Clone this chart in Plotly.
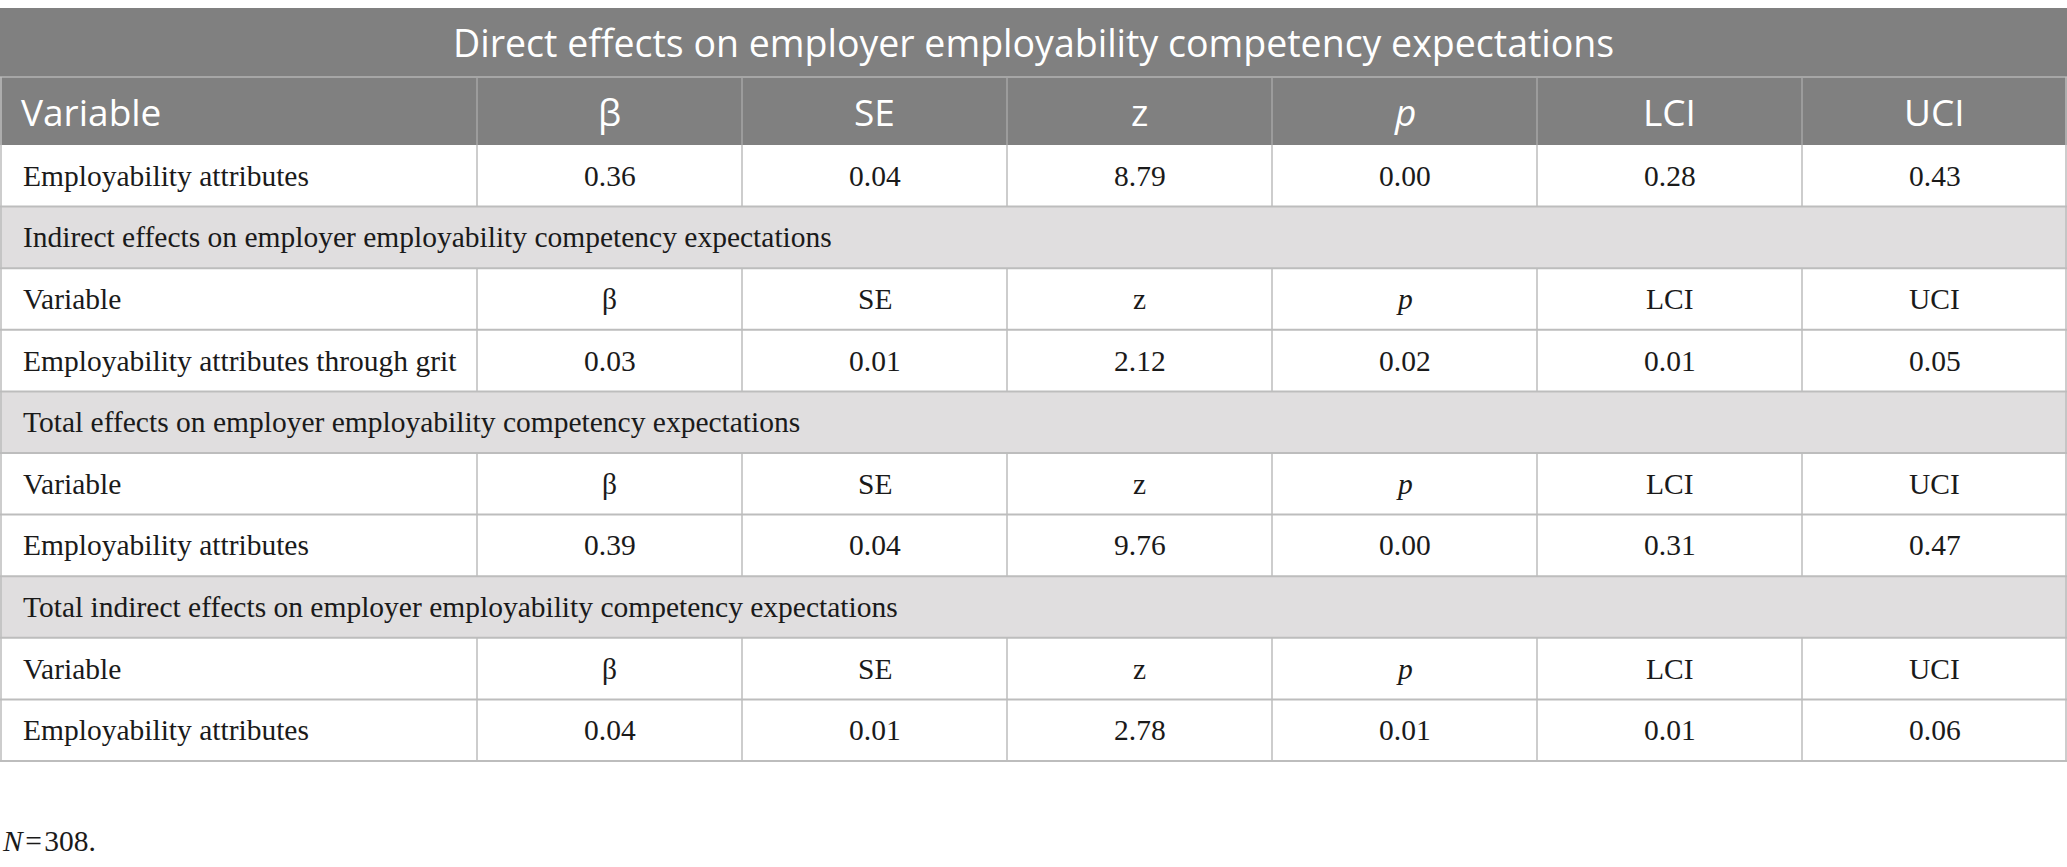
import plotly.graph_objects as go

# ---------------- data ----------------
title = "Direct effects on employer employability competency expectations"
columns = ["Variable", "β", "SE", "z", "<i>p</i>", "LCI", "UCI"]
section_titles = [
    "Indirect effects on employer employability competency expectations",
    "Total effects on employer employability competency expectations",
    "Total indirect effects on employer employability competency expectations",
]
variables = [
    "Employability attributes",
    "Employability attributes through grit",
    "Employability attributes",
    "Employability attributes",
]
beta = ["0.36", "0.03", "0.39", "0.04"]
se = ["0.04", "0.01", "0.04", "0.01"]
zval = ["8.79", "2.12", "9.76", "2.78"]
pval = ["0.00", "0.02", "0.00", "0.01"]
lci = ["0.28", "0.01", "0.31", "0.01"]
uci = ["0.43", "0.05", "0.47", "0.06"]
footnote = "<i>N</i>\u200a=\u200a308."

# ---------------- layout constants ----------------
W, H = 2067, 867
TOP = 8
TITLE_H = 69
HEAD_H = 68
ROW_H = 61.6
COL_W = [477] + [265] * 6
PAD = 21

HEAD_BG = "#808080"
SECT_BG = "#e0dedf"
LINE = "#bdbdbd"
HEAD_LINE = "#a6a6a6"
TXT = "#1a1a1a"
SANS = "Open Sans"
SERIF = "Liberation Serif"
TITLE_SIZE = 37.5
HEAD_SIZE = 37
SERIF_SIZE = 29.5

col_x = [0]
for w in COL_W:
    col_x.append(col_x[-1] + w)
col_c = [(col_x[i] + col_x[i + 1]) / 2 for i in range(len(COL_W))]

shapes = []
annotations = []


def rect(x0, y0, x1, y1, fill):
    shapes.append(dict(type="rect", xref="x", yref="y", x0=x0, x1=x1, y0=y0, y1=y1,
                       fillcolor=fill, line=dict(width=0), layer="below"))


def hline(y, color=LINE, w=2):
    shapes.append(dict(type="line", xref="x", yref="y", x0=0, x1=W, y0=y, y1=y,
                       line=dict(color=color, width=w)))


def vline(x, y0, y1, color=LINE, w=1.5):
    shapes.append(dict(type="line", xref="x", yref="y", x0=x, x1=x, y0=y0, y1=y1,
                       line=dict(color=color, width=w)))


def text(x, y, s, anchor, font, size, color):
    annotations.append(dict(x=x, y=y, xref="x", yref="y", text=s, showarrow=False,
                            xanchor=anchor, yanchor="middle",
                            font=dict(family=font, size=size, color=color)))


# title row
y0 = TOP
rect(0, y0, W, y0 + TITLE_H, HEAD_BG)
text(W / 2, y0 + TITLE_H / 2, title, "center", SANS, TITLE_SIZE, "white")
y0 += TITLE_H

# header row
rect(0, y0, W, y0 + HEAD_H, HEAD_BG)
for i, c in enumerate(columns):
    if i == 0:
        text(PAD - 2, y0 + HEAD_H / 2, c, "left", SANS, HEAD_SIZE, "white")
    else:
        text(col_c[i], y0 + HEAD_H / 2, c, "center", SANS, HEAD_SIZE, "white")
for x in col_x[1:-1]:
    vline(x, y0, y0 + HEAD_H, HEAD_LINE)
hline(y0, HEAD_LINE)
y0 += HEAD_H


def data_row(y, cells):
    for i, c in enumerate(cells):
        if i == 0:
            text(PAD, y + ROW_H / 2, c, "left", SERIF, SERIF_SIZE, TXT)
        else:
            text(col_c[i], y + ROW_H / 2, c, "center", SERIF, SERIF_SIZE, TXT)
    for x in col_x[1:-1]:
        vline(x, y, y + ROW_H)
    hline(y + ROW_H)


data_row(y0, [variables[0], beta[0], se[0], zval[0], pval[0], lci[0], uci[0]])
y0 += ROW_H
for k, st in enumerate(section_titles):
    rect(0, y0, W, y0 + ROW_H, SECT_BG)
    text(PAD, y0 + ROW_H / 2, st, "left", SERIF, SERIF_SIZE, TXT)
    hline(y0 + ROW_H)
    y0 += ROW_H
    data_row(y0, ["Variable", "β", "SE", "z", "<i>p</i>", "LCI", "UCI"])
    y0 += ROW_H
    j = k + 1
    data_row(y0, [variables[j], beta[j], se[j], zval[j], pval[j], lci[j], uci[j]])
    y0 += ROW_H

table_bottom = y0
# outer side borders for the body
vline(1, TOP + TITLE_H, table_bottom)
vline(W - 1, TOP + TITLE_H, table_bottom)

# footnote
text(0, table_bottom + 80, footnote, "left", SERIF, SERIF_SIZE, TXT)

fig = go.Figure()
fig.update_layout(
    width=W, height=H,
    margin=dict(l=0, r=0, t=0, b=0),
    paper_bgcolor="white", plot_bgcolor="white",
    xaxis=dict(range=[0, W], visible=False, fixedrange=True),
    yaxis=dict(range=[H, 0], visible=False, fixedrange=True),
    shapes=shapes, annotations=annotations, showlegend=False,
)
fig.write_html("out.html", config={"displayModeBar": False, "staticPlot": True},
               post_script="document.body.style.margin='0';document.body.style.overflow='hidden';")
